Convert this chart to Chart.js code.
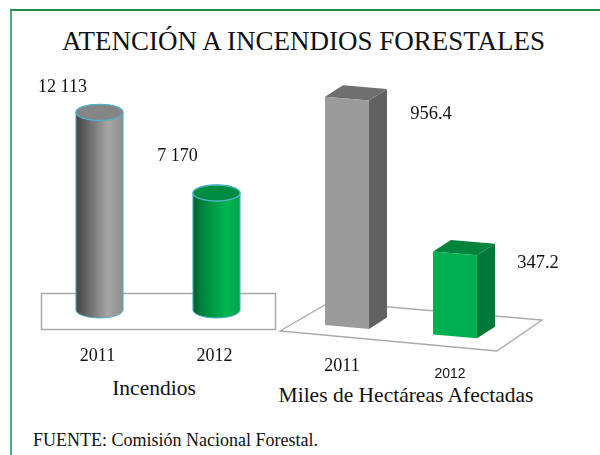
<!DOCTYPE html>
<html><head><meta charset="utf-8">
<script src="https://cdn.jsdelivr.net/npm/chart.js@4.4.1/dist/chart.umd.min.js"></script>
<style>
html,body{margin:0;padding:0;background:#fff;width:600px;height:455px;overflow:hidden}
#frame{position:absolute;left:10px;top:9px;width:600px;height:460px;border-left:2px solid #4fae7e;border-top:2px solid #1f8a4c;box-sizing:border-box}
canvas{position:absolute;left:0;top:0}
.t{position:absolute;font-family:'Liberation Serif','Times New Roman',serif;color:#111;white-space:nowrap;line-height:1.2}
</style></head><body>
<div id="frame"></div>
<div class="t" style="left:0;width:607px;text-align:center;font-size:27px;top:25px">ATENCIÓN A INCENDIOS FORESTALES</div>
<div class="t" style="left:54px;width:200px;text-align:center;font-size:21.5px;top:376px">Incendios</div>
<div class="t" style="left:256px;width:300px;text-align:center;font-size:21.5px;top:383px">Miles de Hectáreas Afectadas</div>
<div class="t" style="left:33px;font-size:18px;top:430px">FUENTE: Comisión Nacional Forestal.</div>
<canvas id="c1" width="600" height="455"></canvas>
<canvas id="c2" width="600" height="455"></canvas>
<script>
// ---- data ----
const categories = ['2011', '2012'];
const incendios = [12113, 7170];
const incendiosLabels = ['12 113', '7 170'];
const hectareas = [956.4, 347.2];
const hectareasLabels = ['956.4', '347.2'];

const SERIF = "'Liberation Serif','Times New Roman',serif";
const SANS = "'Liberation Sans',Arial,sans-serif";

const palette = [
  { body: [[0,'#474747'],[0.18,'#5d5d5d'],[0.68,'#a6a6a6'],[1,'#8e8e8e']], top: '#858585', front: '#9b9b9b', side: '#616161', lid: '#6f6f6f' },
  { body: [[0,'#005e2b'],[0.2,'#00853d'],[0.7,'#00b552'],[1,'#00a84b']], top: '#008d41', front: '#00b050', side: '#007837', lid: '#00843c' }
];

function cylinder(ctx, x, top, base, w, c) {
  const rx = w / 2, ry = 8;
  const g = ctx.createLinearGradient(x - rx, 0, x + rx, 0);
  c.body.forEach(([o, col]) => g.addColorStop(o, col));
  ctx.beginPath();
  ctx.moveTo(x - rx, top);
  ctx.lineTo(x - rx, base);
  ctx.ellipse(x, base, rx, ry, 0, Math.PI, 0, true);
  ctx.lineTo(x + rx, top);
  ctx.ellipse(x, top, rx, ry, 0, 0, Math.PI, true);
  ctx.closePath();
  ctx.fillStyle = g;
  ctx.fill();
  ctx.strokeStyle = '#55b6c8';
  ctx.lineWidth = 1;
  ctx.stroke();
  ctx.beginPath();
  ctx.ellipse(x, top, rx, ry, 0, 0, Math.PI * 2);
  ctx.fillStyle = c.top;
  ctx.fill();
  ctx.strokeStyle = '#4fb4c8';
  ctx.lineWidth = 1.3;
  ctx.stroke();
}

const cylinderPlugin = {
  id: 'cyl',
  afterDatasetsDraw(chart, args, opts) {
    const ctx = chart.ctx, a = chart.chartArea;
    ctx.save();
    ctx.strokeStyle = '#a9a9a9';
    ctx.lineWidth = 1.5;
    ctx.strokeRect(a.left + 0.5, a.bottom - 17 + 0.5, a.right - a.left, 36);
    const meta = chart.getDatasetMeta(0);
    meta.data.forEach((bar, i) => {
      cylinder(ctx, bar.x, bar.y, bar.base, bar.width, palette[i]);
    });
    ctx.fillStyle = '#111';
    ctx.textAlign = 'center';
    ctx.textBaseline = 'alphabetic';
    ctx.font = '18px ' + SERIF;
    meta.data.forEach((bar, i) => {
      const o = opts.valueOffsets[i];
      ctx.fillText(incendiosLabels[i], bar.x + o[0], bar.y + o[1]);
    });
    meta.data.forEach((bar, i) => {
      ctx.fillText(categories[i], bar.x - 2, a.bottom + 51);
    });
    ctx.restore();
  }
};

const boxPlugin = {
  id: 'box3d',
  afterDatasetsDraw(chart, args, opts) {
    const ctx = chart.ctx, a = chart.chartArea;
    const meta = chart.getDatasetMeta(0);
    const x0 = meta.data[0].x, s = opts.slope;
    const T = x => (x - x0) * s;
    const L = a.left, R = a.right, B = a.bottom;
    ctx.save();
    ctx.beginPath();
    ctx.moveTo(L - 13, B + 4);
    ctx.lineTo(L + 37, B - 25);
    ctx.lineTo(R + 33, B - 7);
    ctx.lineTo(R - 12, B + 24);
    ctx.closePath();
    ctx.strokeStyle = '#a9a9a9';
    ctx.lineWidth = 1.3;
    ctx.stroke();
    const dx = 18, dy = -11.5;
    meta.data.forEach((bar, i) => {
      const c = palette[i];
      const l = bar.x - bar.width / 2, r = bar.x + bar.width / 2;
      const top = bar.y, base = bar.base;
      const fl = [l, top + T(l)], fr = [r, top + T(r)];
      const bl = [l, base + T(l)], br = [r, base + T(r)];
      ctx.beginPath();
      ctx.moveTo(fr[0], fr[1]); ctx.lineTo(fr[0] + dx, fr[1] + dy);
      ctx.lineTo(br[0] + dx, br[1] + dy); ctx.lineTo(br[0], br[1]); ctx.closePath();
      ctx.fillStyle = c.side; ctx.fill();
      ctx.beginPath();
      ctx.moveTo(fl[0], fl[1]); ctx.lineTo(fl[0] + dx, fl[1] + dy);
      ctx.lineTo(fr[0] + dx, fr[1] + dy); ctx.lineTo(fr[0], fr[1]); ctx.closePath();
      ctx.fillStyle = c.lid; ctx.fill();
      ctx.beginPath();
      ctx.moveTo(fl[0], fl[1]); ctx.lineTo(fr[0], fr[1]);
      ctx.lineTo(br[0], br[1]); ctx.lineTo(bl[0], bl[1]); ctx.closePath();
      ctx.fillStyle = c.front; ctx.fill();
    });
    ctx.fillStyle = '#111';
    ctx.textAlign = 'center';
    ctx.textBaseline = 'alphabetic';
    meta.data.forEach((bar, i) => {
      ctx.font = '18.5px ' + SERIF;
      ctx.fillText(hectareasLabels[i], bar.x + opts.valueOffsets[i][0], bar.y + T(bar.x) + opts.valueOffsets[i][1]);
      ctx.font = opts.tickFonts[i];
      ctx.fillText(categories[i], bar.x - 5, B + T(bar.x) + opts.tickDy[i]);
    });
    ctx.restore();
  }
};

const common = (padding, max, barPct) => ({
  responsive: false,
  animation: false,
  devicePixelRatio: 1,
  layout: { padding },
  scales: {
    x: { display: false },
    y: { display: false, min: 0, max }
  },
  datasets: { bar: { barPercentage: barPct, categoryPercentage: 1 } },
  plugins: { legend: { display: false }, tooltip: { enabled: false } }
});

const opt1 = common({ left: 41, right: 325, top: 0, bottom: 145 }, 19000, 0.403);
opt1.plugins.cyl = { valueOffsets: [[-37, -20], [-39, -32]] };
new Chart(document.getElementById('c1'), {
  type: 'bar',
  data: { labels: categories, datasets: [{ data: incendios, backgroundColor: 'rgba(0,0,0,0)', borderWidth: 0 }] },
  options: opt1,
  plugins: [cylinderPlugin]
});

const opt2 = common({ left: 293, right: 91, top: 0, bottom: 128 }, 1370, 0.407);
opt2.plugins.box3d = {
  slope: 0.086,
  valueOffsets: [[84, 20], [83, 15]],
  tickFonts: ['18px ' + SERIF, '14px ' + SANS],
  tickDy: [44, 42]
};
new Chart(document.getElementById('c2'), {
  type: 'bar',
  data: { labels: categories, datasets: [{ data: hectareas, backgroundColor: 'rgba(0,0,0,0)', borderWidth: 0 }] },
  options: opt2,
  plugins: [boxPlugin]
});
</script>
</body></html>
